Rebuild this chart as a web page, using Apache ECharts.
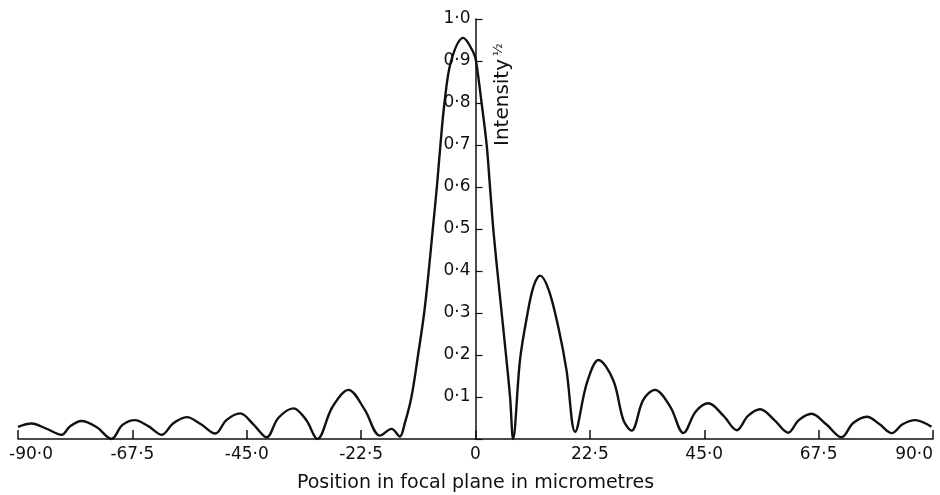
<!DOCTYPE html>
<html>
<head>
<meta charset="utf-8">
<script src="https://cdn.jsdelivr.net/npm/echarts@6/dist/echarts.min.js"></script>
<style>
  html, body { margin: 0; padding: 0; background: #fff; }
  #chart { width: 940px; height: 495px; }
</style>
</head>
<body>
<div id="chart"></div>
<script>
// Square root of intensity across the focal plane (position in micrometres)
const positions = [
  -90, -87.3, -84.5, -81.4, -79.8, -77.5, -74.5, -71.6, -69.5, -67.0,
  -64.3, -61.7, -59.5, -56.8, -54.0, -51.2, -49.0, -46.3, -43.7, -41.1,
  -38.8, -35.8, -33.3, -31.1, -28.2, -25.0, -21.8, -18.8, -16.5, -14.9,
  -13.9, -12.6, -11.3, -10.1, -9.2, -8.4, -7.6, -6.9, -6.1, -4.8,
  -2.4, -0.4, 0.1, 1.2, 2.2, 2.85, 3.5, 4.3, 5.15, 6.0,
  6.8, 7.4, 8.75, 10.1, 11.4, 12.7, 14.4, 16.4, 17.9, 19.6,
  21.9, 24.2, 27.1, 29.1, 30.7, 33.0, 35.3, 38.3, 40.9, 43.3,
  45.8, 48.8, 51.4, 53.6, 56.0, 58.8, 61.5, 63.6, 66.1, 69.0,
  72.0, 74.3, 77.0, 79.5, 81.9, 84.0, 86.5, 89.7
];
const amplitude = [
  0.029, 0.037, 0.025, 0.010, 0.030, 0.043, 0.028, 0.000, 0.033, 0.045,
  0.030, 0.010, 0.037, 0.052, 0.035, 0.013, 0.045, 0.061, 0.035, 0.004,
  0.050, 0.073, 0.045, 0.000, 0.075, 0.117, 0.070, 0.008, 0.024, 0.006,
  0.038, 0.100, 0.200, 0.300, 0.400, 0.500, 0.600, 0.700, 0.800, 0.900,
  0.955, 0.920, 0.900, 0.800, 0.700, 0.600, 0.500, 0.400, 0.300, 0.200,
  0.100, 0.000, 0.188, 0.290, 0.363, 0.389, 0.355, 0.260, 0.164, 0.017,
  0.133, 0.188, 0.140, 0.045, 0.020, 0.093, 0.117, 0.077, 0.014, 0.065,
  0.085, 0.055, 0.021, 0.055, 0.071, 0.045, 0.015, 0.045, 0.060, 0.035,
  0.004, 0.038, 0.053, 0.035, 0.014, 0.035, 0.045, 0.029
];

// Tick labels
const xTickValues = [-90, -67.5, -45, -22.5, 0, 22.5, 45, 67.5, 90];
const xTickLabels = ['-90·0', '-67·5', '-45·0', '-22·5', '0', '22·5', '45·0', '67·5', '90·0'];
const yTickValues = [0.1, 0.2, 0.3, 0.4, 0.5, 0.6, 0.7, 0.8, 0.9, 1.0];
const yTickLabels = ['0·1', '0·2', '0·3', '0·4', '0·5', '0·6', '0·7', '0·8', '0·9', '1·0'];

const xTitle = 'Position in focal plane in micrometres';
const yTitle = 'Intensity';
const yTitleSup = '½';

const ink = '#111';
const font = 'DejaVu Sans';

// plot area edges; the vertical axis sits at position 0
const gridLeft = 18, gridRight = 7;
const plotWidth = 940 - gridLeft - gridRight;
const xMin = -90, xMax = 90;
const yAxisOffset = -plotWidth * (0 - xMin) / (xMax - xMin);

function lookup(values, labels, v) {
  for (let i = 0; i < values.length; i++) {
    if (Math.abs(values[i] - v) < 1e-6) return labels[i];
  }
  return '';
}

const chart = echarts.init(document.getElementById('chart'), null, { renderer: 'canvas' });

chart.setOption({
  backgroundColor: '#fff',
  animation: false,
  grid: { left: gridLeft, right: gridRight, top: 19, bottom: 56, containLabel: false, outerBoundsMode: 'none' },
  xAxis: {
    type: 'value',
    min: xMin, max: xMax, interval: 22.5,
    splitLine: { show: false },
    axisLine: { show: true, onZero: false, lineStyle: { color: ink, width: 1.5 } },
    axisTick: { show: true, inside: true, length: 9, lineStyle: { color: ink, width: 1.5 } },
    axisLabel: {
      color: ink, fontFamily: font, fontSize: 17, margin: 7,
      showMinLabel: true, showMaxLabel: true,
      alignMaxLabel: 'right',
      formatter: function (v) {
        const t = lookup(xTickValues, xTickLabels, v);
        return v === xMin ? '{first|' + t + '}' : t;
      },
      rich: { first: { color: ink, fontFamily: font, fontSize: 17, padding: [0, 0, 0, 26] } }
    },
    name: xTitle,
    nameLocation: 'middle',
    nameGap: 35,
    nameTextStyle: { color: ink, fontFamily: font, fontSize: 19 }
  },
  yAxis: {
    type: 'value',
    min: 0, max: 1, interval: 0.1,
    offset: yAxisOffset,
    splitLine: { show: false },
    axisLine: { show: true, onZero: false, lineStyle: { color: ink, width: 1.5 } },
    axisTick: { show: true, inside: true, length: 7, lineStyle: { color: ink, width: 1.2 } },
    axisLabel: {
      color: ink, fontFamily: font, fontSize: 17, margin: 5,
      formatter: function (v) { return lookup(yTickValues, yTickLabels, v); }
    }
  },
  graphic: [{
    type: 'text',
    x: 492, y: 146,
    rotation: Math.PI / 2,
    style: {
      text: '{a|' + yTitle + '}{b|' + yTitleSup + '}',
      rich: {
        a: { fill: ink, fontFamily: font, fontSize: 20 },
        b: { fill: ink, fontFamily: font, fontSize: 13, padding: [0, 0, 8, 3] }
      },
      align: 'left',
      verticalAlign: 'top'
    }
  }],
  series: [{
    type: 'line',
    data: positions.map((x, i) => [x, amplitude[i]]),
    showSymbol: false,
    smooth: 0.35,
    lineStyle: { color: ink, width: 2.4 },
    clip: false
  }]
});
</script>
</body>
</html>
